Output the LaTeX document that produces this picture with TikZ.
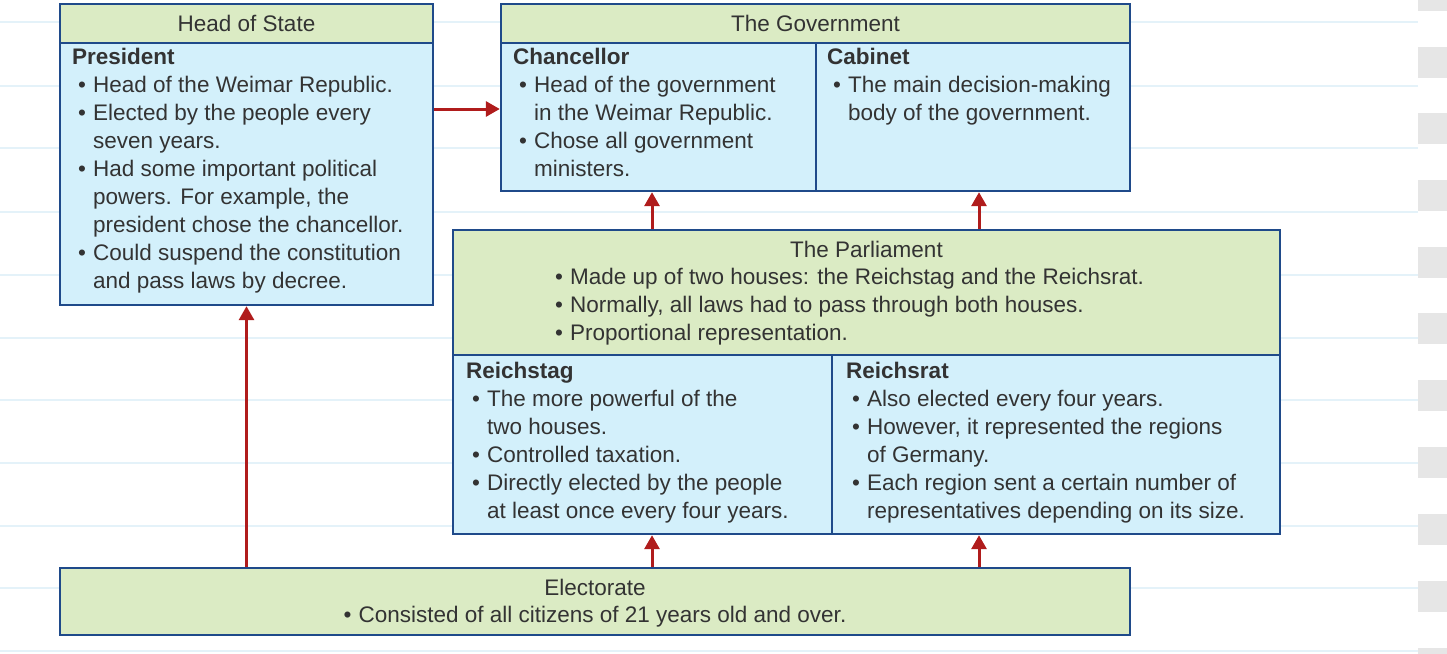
\documentclass[tikz,border=0pt]{standalone}
\usepackage{fontspec}
\setmainfont{Liberation Sans}
\usetikzlibrary{arrows.meta}
\definecolor{bord}{HTML}{1F4A8A}
\definecolor{hgreen}{HTML}{DBEBC4}
\definecolor{bblue}{HTML}{D3F0FB}
\definecolor{arred}{HTML}{B01C1C}
\definecolor{txt}{HTML}{333333}
\definecolor{rule}{HTML}{E4F2F9}
\definecolor{sq}{HTML}{E6E6E6}
\tikzset{
  box/.style={draw=bord, line width=2.4pt, fill=bblue, rectangle, inner sep=0pt},
  hdr/.style={draw=bord, line width=2.4pt, fill=hgreen, rectangle, inner sep=0pt},
  ttl/.style={text=txt, font=\fontsize{22.5}{28}\selectfont, inner sep=0pt},
  body/.style={text=txt, font=\fontsize{22.5}{28}\selectfont, inner sep=0pt, anchor=north west, align=left},
  arr/.style={draw=arred, line width=3pt, -{Triangle[width=15pt,length=14pt]}},
  divl/.style={draw=bord, line width=2.2pt},
}
\begin{document}
\begin{tikzpicture}[x=1pt,y=-1pt]
\useasboundingbox (0,0) rectangle (1447,653);
\fill[white] (0,0) rectangle (1447,653);
% background rules
\foreach \yy in {22,86,148,212,275,338,400,463,526,588,651}
  \draw[rule, line width=1.5pt] (0,\yy) -- (1418,\yy);
\foreach \yy in {-20,47,113,180,247,313,380,447,514,581,648}
  \fill[sq] (1418,\yy) rectangle (1450,\yy+31);

% Head of State
\node[box, minimum width=373pt, minimum height=301pt] (hos) at (246.5,154.5) {};
\node[hdr, minimum width=373pt, minimum height=39pt] (hosh) at (246.5,23.5) {};
\node[ttl] (host) at (hosh.center) {Head of State};
\node[body] (host2) at (72,45) {\begin{tabular}{@{}p{21pt}@{}l@{}}
\multicolumn{2}{@{}l@{}}{\textbf{President}}\\
\hspace*{6pt}\textbullet & Head of the Weimar Republic.\\
\hspace*{6pt}\textbullet & Elected by the people every\\
 & seven years.\\
\hspace*{6pt}\textbullet & Had some important political\\
 & powers. For example, the\\
 & president chose the chancellor.\\
\hspace*{6pt}\textbullet & Could suspend the constitution\\
 & and pass laws by decree.
\end{tabular}};

% Government
\node[box, minimum width=629pt, minimum height=187pt] (gov) at (815.5,97.5) {};
\node[hdr, minimum width=629pt, minimum height=39pt] (govh) at (815.5,23.5) {};
\node[ttl] (govt) at (govh.center) {The Government};
\draw[divl] (816,43) -- (816,191);
\node[body] (chan) at (513,45) {\begin{tabular}{@{}p{21pt}@{}l@{}}
\multicolumn{2}{@{}l@{}}{\textbf{Chancellor}}\\
\hspace*{6pt}\textbullet & Head of the government\\
 & in the Weimar Republic.\\
\hspace*{6pt}\textbullet & Chose all government\\
 & ministers.
\end{tabular}};
\node[body] (cab) at (827,45) {\begin{tabular}{@{}p{21pt}@{}l@{}}
\multicolumn{2}{@{}l@{}}{\textbf{Cabinet}}\\
\hspace*{6pt}\textbullet & The main decision-making\\
 & body of the government.
\end{tabular}};

% Parliament
\node[box, minimum width=827pt, minimum height=304pt] (parl) at (866.5,382) {};
\node[hdr, minimum width=827pt, minimum height=125pt] (parlh) at (866.5,292.5) {};
\node[ttl] (parlt) at (866.5,249) {The Parliament};
\node[body] (parlb) at (555,265) {\begin{tabular}{@{}p{15pt}@{}l@{}}
\textbullet & Made up of two houses: the Reichstag and the Reichsrat.\\
\textbullet & Normally, all laws had to pass through both houses.\\
\textbullet & Proportional representation.
\end{tabular}};
\draw[divl] (832,355) -- (832,534);
\node[body] (rtag) at (466,359) {\begin{tabular}{@{}p{21pt}@{}l@{}}
\multicolumn{2}{@{}l@{}}{\textbf{Reichstag}}\\
\hspace*{6pt}\textbullet & The more powerful of the\\
 & two houses.\\
\hspace*{6pt}\textbullet & Controlled taxation.\\
\hspace*{6pt}\textbullet & Directly elected by the people\\
 & at least once every four years.
\end{tabular}};
\node[body] (rrat) at (846,359) {\begin{tabular}{@{}p{21pt}@{}l@{}}
\multicolumn{2}{@{}l@{}}{\textbf{Reichsrat}}\\
\hspace*{6pt}\textbullet & Also elected every four years.\\
\hspace*{6pt}\textbullet & However, it represented the regions\\
 & of Germany.\\
\hspace*{6pt}\textbullet & Each region sent a certain number of\\
 & representatives depending on its size.
\end{tabular}};

% Electorate
\node[hdr, minimum width=1070pt, minimum height=67pt] (elec) at (595,601.5) {};
\node[ttl] (elect) at (595,587) {Electorate};
\node[ttl] (elecb) at (595,617) {\textbullet\hspace{7pt}Consisted of all citizens of 21 years old and over.};

% connectors
\coordinate (xa) at (652,0);
\coordinate (xb) at (979,0);
\draw[arr] (hos.east |- 0,109) -- (gov.west |- 0,109);
\draw[arr] (hos.south |- elec.north) -- (hos.south);
\draw[arr] (parl.north -| xa) -- (gov.south -| xa);
\draw[arr] (parl.north -| xb) -- (gov.south -| xb);
\draw[arr] (elec.north -| xa) -- (parl.south -| xa);
\draw[arr] (elec.north -| xb) -- (parl.south -| xb);
\end{tikzpicture}
\end{document}
